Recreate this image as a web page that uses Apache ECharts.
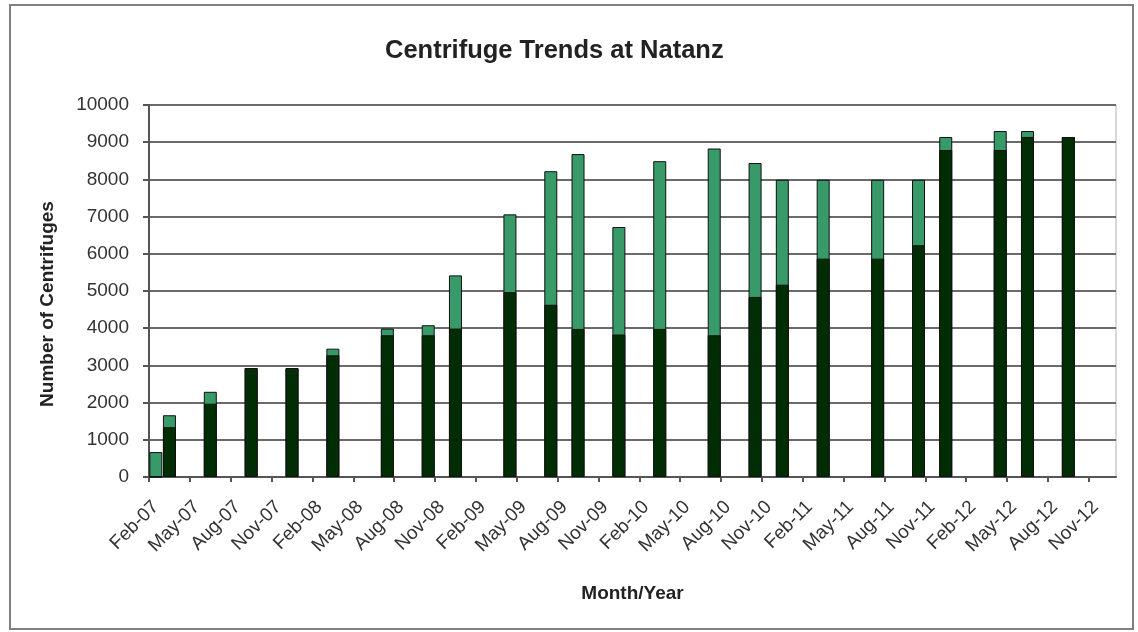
<!DOCTYPE html>
<html>
<head>
<meta charset="utf-8">
<script src="https://cdn.jsdelivr.net/npm/echarts@6/dist/echarts.min.js"></script>
<style>
    html, body { margin: 0; padding: 0; background: #fff; }
    #bar-chart { width: 1138px; height: 632px; }
</style>
</head>
<body>
<div id="bar-chart"></div>
<script>
// report dates, centrifuges operating, and total installed
var reportDates = ['Feb-07', 'Mar-07', 'Jun-07', 'Sep-07', 'Dec-07', 'Mar-08', 'Jul-08', 'Oct-08',
    'Dec-08', 'Apr-09', 'Jul-09', 'Sep-09', 'Dec-09', 'Mar-10', 'Jul-10', 'Oct-10', 'Dec-10',
    'Mar-11', 'Jul-11', 'Oct-11', 'Dec-11', 'Apr-12', 'Jun-12', 'Sep-12'];
var operating = [0, 1340, 1970, 2930, 2930, 3270, 3810, 3810, 3990, 4970, 4630, 3980, 3830,
    3980, 3810, 4840, 5170, 5870, 5870, 6230, 8790, 8790, 9140, 9140];
var installed = [670, 1660, 2290, 2930, 2930, 3450, 3990, 4080, 5420, 7060, 8220, 8680, 6720,
    8490, 8830, 8440, 7990, 7990, 7990, 7990, 9140, 9300, 9300, 9140];
var tickLabels = ['Feb-07', 'May-07', 'Aug-07', 'Nov-07', 'Feb-08', 'May-08', 'Aug-08', 'Nov-08',
    'Feb-09', 'May-09', 'Aug-09', 'Nov-09', 'Feb-10', 'May-10', 'Aug-10', 'Nov-10', 'Feb-11',
    'May-11', 'Aug-11', 'Nov-11', 'Feb-12', 'May-12', 'Aug-12', 'Nov-12'];

var monthNames = ['Jan', 'Feb', 'Mar', 'Apr', 'May', 'Jun', 'Jul', 'Aug', 'Sep', 'Oct', 'Nov', 'Dec'];

// months since Feb-07, bar sits in the middle of its month
function monthPos(label) {
    var m = monthNames.indexOf(label.slice(0, 3));
    var y = 2000 + parseInt(label.slice(4), 10);
    return (y - 2007) * 12 + m - 1 + 0.5;
}

var tickValues = tickLabels.map(function (l, i) { return i * 3; });
// labels hang a little right of their tick, like the excel original
var labelValues = tickLabels.map(function (l, i) { return i * 3 + 0.5; });

function barChart() {
    var chart = echarts.init(document.getElementById('bar-chart'));
    var font = 'Liberation Sans, Arial, sans-serif';
    var option = {
        animation: false,
        textStyle: { fontFamily: font },

        title: {
            text: 'Centrifuge Trends at Natanz',
            left: 380,
            top: 33,
            textStyle: { fontSize: 25.5, fontWeight: 'bold', color: '#222', fontFamily: font }
        },

        graphic: [{
            type: 'rect',
            shape: { x: 10, y: 5, width: 1123, height: 624 },
            style: { fill: null, stroke: '#808080', lineWidth: 2 },
            silent: true
        }],

        grid: {
            left: 149, right: 22, top: 105, bottom: 155,
            show: true, borderColor: '#b0b0b0', borderWidth: 1
        },

        xAxis: {
            type: 'value',
            min: 0,
            max: 71,
            interval: 3,
            name: 'Month/Year',
            nameLocation: 'middle',
            nameGap: 107,
            nameTextStyle: { fontSize: 19, fontWeight: 'bold', color: '#222', fontFamily: font },
            axisLine: { show: true, lineStyle: { color: '#555', width: 2 } },
            axisTick: { show: true, length: 5, customValues: tickValues, lineStyle: { color: '#555', width: 2 } },
            axisLabel: {
                customValues: labelValues,
                rotate: 45,
                margin: 27,
                fontSize: 19,
                color: '#333',
                formatter: function (v) { return tickLabels[Math.round((v - 0.5) / 3)] || ''; }
            },
            splitLine: { show: false }
        },

        yAxis: {
            type: 'value',
            min: 0,
            max: 10000,
            interval: 1000,
            name: 'Number of Centrifuges',
            nameLocation: 'middle',
            nameRotate: 90,
            nameGap: 92,
            nameTextStyle: { fontSize: 19, fontWeight: 'bold', color: '#222', fontFamily: font, padding: [0, 26, 0, 0] },
            axisLine: { show: true, lineStyle: { color: '#555', width: 2 } },
            axisTick: { show: true, length: 6, lineStyle: { color: '#555', width: 2 } },
            axisLabel: {
                fontSize: 19, color: '#333', margin: 20,
                formatter: function (v) { return String(v); }
            },
            splitLine: { show: true, lineStyle: { color: '#6a6a6a', width: 2 } }
        },

        series: [{
            name: 'Installed',
            type: 'bar',
            barWidth: 13,
            barGap: '-100%',
            itemStyle: { color: '#379a68', borderColor: '#111', borderWidth: 1 },
            data: reportDates.map(function (d, i) { return [monthPos(d), installed[i]]; })
        }, {
            name: 'Operating',
            type: 'bar',
            barWidth: 13,
            barGap: '-100%',
            z: 3,
            itemStyle: { color: '#002d03', borderColor: '#111', borderWidth: 1 },
            data: reportDates.map(function (d, i) { return [monthPos(d), operating[i]]; })
        }]
    };

    chart.setOption(option);
    window.onresize = function () {
        chart.resize();
    };
}

barChart();
</script>
</body>
</html>
